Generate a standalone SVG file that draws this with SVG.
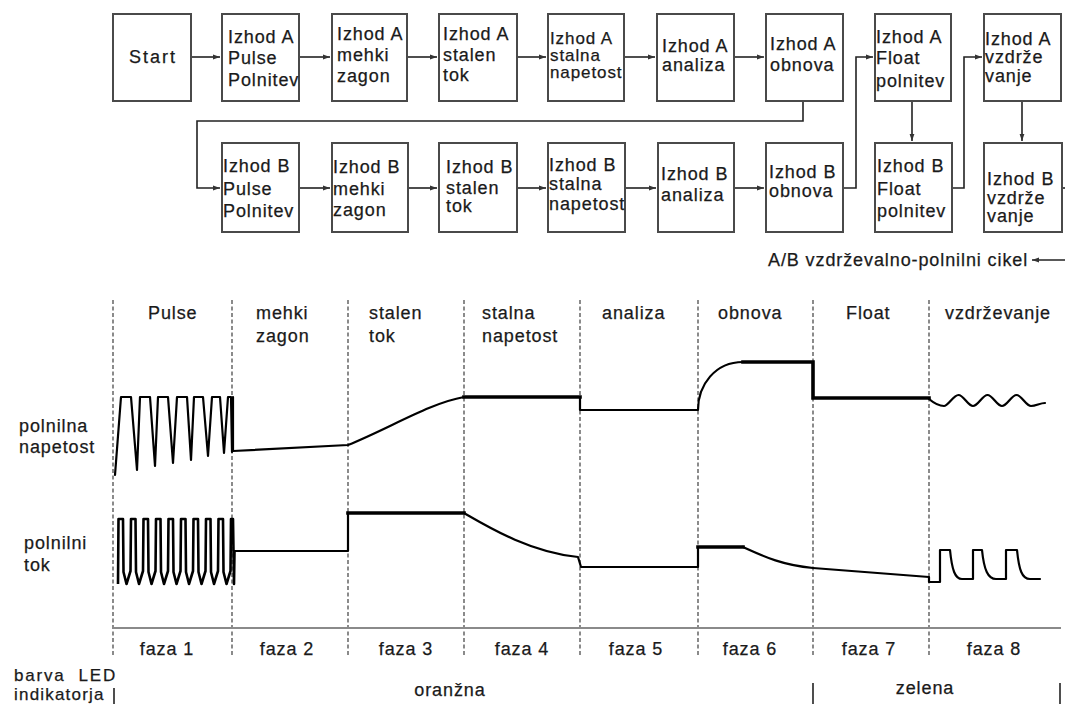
<svg xmlns="http://www.w3.org/2000/svg" width="1065" height="704" viewBox="0 0 1065 704">
<style>
.box{fill:#fff;stroke:#4a4a4a;stroke-width:2}
.t{font-family:"Liberation Sans",Arial,sans-serif;font-size:18px;letter-spacing:0.9px;fill:#1a1a1a;stroke:#1a1a1a;stroke-width:0.25px}
.conn{fill:none;stroke:#222;stroke-width:1.6}
.grid{fill:none;stroke:#6e6e6e;stroke-width:1.6;stroke-dasharray:4 2.5}
.wave{fill:none;stroke:#000;stroke-width:2.2;stroke-linejoin:round;stroke-linecap:round}
.dense{fill:none;stroke:#000;stroke-width:2.6;stroke-linejoin:round}
.thick{fill:none;stroke:#000;stroke-width:3.6;stroke-linecap:square}
.bar{stroke:#222;stroke-width:1.6}
</style>
<defs>
<marker id="ah" markerWidth="8" markerHeight="6" refX="7" refY="3" orient="auto" markerUnits="userSpaceOnUse">
<path d="M0,0.6 L7,3 L0,5.4 z" fill="#333"/>
</marker>
</defs>
<rect width="1065" height="704" fill="#fff"/>

<!-- connectors -->
<g id="connectors">
<path class="conn" d="M191,57 H220" marker-end="url(#ah)"/>
<path class="conn" d="M299,57 H330" marker-end="url(#ah)"/>
<path class="conn" d="M407,57 H437" marker-end="url(#ah)"/>
<path class="conn" d="M517,57 H546" marker-end="url(#ah)"/>
<path class="conn" d="M624,57 H655" marker-end="url(#ah)"/>
<path class="conn" d="M734,57 H764" marker-end="url(#ah)"/>
<path class="conn" d="M803,101 V121 H197 V188 H220" marker-end="url(#ah)"/>
<path class="conn" d="M299,188 H330" marker-end="url(#ah)"/>
<path class="conn" d="M408,188 H437" marker-end="url(#ah)"/>
<path class="conn" d="M517,188 H546" marker-end="url(#ah)"/>
<path class="conn" d="M625,188 H656" marker-end="url(#ah)"/>
<path class="conn" d="M734,188 H764" marker-end="url(#ah)"/>
<path class="conn" d="M843,188 H856 V57 H873" marker-end="url(#ah)"/>
<path class="conn" d="M912,101 V141" marker-end="url(#ah)"/>
<path class="conn" d="M952,188 H964 V57 H982" marker-end="url(#ah)"/>
<path class="conn" d="M1022,101 V141" marker-end="url(#ah)"/>
<path class="conn" d="M1062,188 H1066"/>
<path class="conn" d="M1066,260 H1032" marker-end="url(#ah)"/>
</g>

<g id="start">
<rect class="box" x="113" y="14" width="78" height="87"/>
<text class="t" x="153" y="63" text-anchor="middle" style="letter-spacing:2px">Start</text>
</g>
<g id="a-pulse">
<rect class="box" x="222" y="14" width="77" height="87"/>
<text class="t"><tspan x="228" y="43">Izhod A</tspan><tspan x="228" y="64">Pulse</tspan><tspan x="228" y="86">Polnitev</tspan></text>
</g>
<g id="a-mehki">
<rect class="box" x="332" y="14" width="75" height="87"/>
<text class="t"><tspan x="337" y="40">Izhod A</tspan><tspan x="337" y="61">mehki</tspan><tspan x="337" y="82">zagon</tspan></text>
</g>
<g id="a-stalen">
<rect class="box" x="439" y="14" width="78" height="87"/>
<text class="t"><tspan x="443" y="40">Izhod A</tspan><tspan x="443" y="61">stalen</tspan><tspan x="443" y="81">tok</tspan></text>
</g>
<g id="a-stalna">
<rect class="box" x="548" y="14" width="76" height="87"/>
<text class="t" style="font-size:17px"><tspan x="550" y="44">Izhod A</tspan><tspan x="550" y="61">stalna</tspan><tspan x="550" y="78">napetost</tspan></text>
</g>
<g id="a-analiza">
<rect class="box" x="657" y="14" width="77" height="87"/>
<text class="t"><tspan x="662" y="52">Izhod A</tspan><tspan x="662" y="71">analiza</tspan></text>
</g>
<g id="a-obnova">
<rect class="box" x="766" y="14" width="77" height="87"/>
<text class="t"><tspan x="770" y="50">Izhod A</tspan><tspan x="770" y="71">obnova</tspan></text>
</g>
<g id="a-float">
<rect class="box" x="875" y="14" width="76" height="87"/>
<text class="t"><tspan x="876" y="43">Izhod A</tspan><tspan x="876" y="64">Float</tspan><tspan x="876" y="87">polnitev</tspan></text>
</g>
<g id="a-vzdrze">
<rect class="box" x="984" y="14" width="77" height="87"/>
<text class="t"><tspan x="985" y="45">Izhod A</tspan><tspan x="985" y="63">vzdrže</tspan><tspan x="985" y="82">vanje</tspan></text>
</g>

<g id="b-pulse">
<rect class="box" x="222" y="143" width="77" height="89"/>
<text class="t"><tspan x="223" y="172">Izhod B</tspan><tspan x="223" y="195">Pulse</tspan><tspan x="223" y="217">Polnitev</tspan></text>
</g>
<g id="b-mehki">
<rect class="box" x="332" y="143" width="76" height="89"/>
<text class="t"><tspan x="333" y="173">Izhod B</tspan><tspan x="333" y="195">mehki</tspan><tspan x="333" y="216">zagon</tspan></text>
</g>
<g id="b-stalen">
<rect class="box" x="439" y="143" width="78" height="89"/>
<text class="t"><tspan x="446" y="173">Izhod B</tspan><tspan x="446" y="194">stalen</tspan><tspan x="446" y="212">tok</tspan></text>
</g>
<g id="b-stalna">
<rect class="box" x="548" y="143" width="77" height="89"/>
<text class="t"><tspan x="549" y="171">Izhod B</tspan><tspan x="549" y="190">stalna</tspan><tspan x="549" y="210">napetost</tspan></text>
</g>
<g id="b-analiza">
<rect class="box" x="658" y="143" width="76" height="89"/>
<text class="t"><tspan x="661" y="180">Izhod B</tspan><tspan x="661" y="201">analiza</tspan></text>
</g>
<g id="b-obnova">
<rect class="box" x="766" y="143" width="77" height="89"/>
<text class="t"><tspan x="769" y="178">Izhod B</tspan><tspan x="769" y="197">obnova</tspan></text>
</g>
<g id="b-float">
<rect class="box" x="875" y="143" width="77" height="89"/>
<text class="t"><tspan x="877" y="172">Izhod B</tspan><tspan x="877" y="195">Float</tspan><tspan x="877" y="217">polnitev</tspan></text>
</g>
<g id="b-vzdrze">
<rect class="box" x="984" y="143" width="78" height="89"/>
<text class="t"><tspan x="987" y="185">Izhod B</tspan><tspan x="987" y="204">vzdrže</tspan><tspan x="987" y="222">vanje</tspan></text>
</g>

<text class="t" x="768" y="266">A/B vzdrževalno-polnilni cikel</text>

<!-- timing chart -->
<g id="grid">
<line class="grid" x1="113" y1="300" x2="113" y2="656"/>
<line class="grid" x1="232" y1="300" x2="232" y2="656"/>
<line class="grid" x1="348" y1="300" x2="348" y2="656"/>
<line class="grid" x1="464" y1="300" x2="464" y2="656"/>
<line class="grid" x1="580" y1="300" x2="580" y2="656"/>
<line class="grid" x1="698" y1="300" x2="698" y2="656"/>
<line class="grid" x1="813" y1="300" x2="813" y2="656"/>
<line class="grid" x1="929" y1="300" x2="929" y2="656"/>
<line x1="113" y1="628" x2="1061" y2="628" stroke="#8a8a8a" stroke-width="2.2"/>
</g>

<g id="phase-labels">
<text class="t" x="148" y="319">Pulse</text>
<text class="t"><tspan x="256" y="319">mehki</tspan><tspan x="256" y="342">zagon</tspan></text>
<text class="t"><tspan x="369" y="319">stalen</tspan><tspan x="369" y="342">tok</tspan></text>
<text class="t"><tspan x="482" y="319">stalna</tspan><tspan x="482" y="342">napetost</tspan></text>
<text class="t" x="602" y="319">analiza</text>
<text class="t" x="718" y="319">obnova</text>
<text class="t" x="846" y="319">Float</text>
<text class="t" x="945" y="319">vzdrževanje</text>
</g>

<g id="row-labels">
<text class="t"><tspan x="19" y="432">polnilna</tspan><tspan x="19" y="453">napetost</tspan></text>
<text class="t"><tspan x="24" y="549">polnilni</tspan><tspan x="24" y="571">tok</tspan></text>
</g>

<g id="voltage">
<path class="wave" d="M115,475 L121,397 L131,397 L137,470 L140,397 L150,397 L155,466 L158,397 L168,397 L173,463 L177,397 L187,397 L191,460 L194,397 L203,397 L208,456 L212,397 L220,397 L224,453 L228,397 L231,397 L232,452 L233,397 L233,451 L348,445 C390,428 430,403 464,397"/>
<path class="thick" d="M464,397 H580"/>
<path class="wave" d="M580,397 V410 H698 C698,385 715,362 743,362"/>
<path class="thick" d="M743,362 H813 V398 H929"/>
<path class="wave" d="M929,399 C935,404 940,406 944,406 S953.5,395 958.5,395 S968,406 973,406 S982.5,395 987.5,395 S997,406 1002,406 S1011.5,395 1016.5,395 S1026,406 1031,406 S1040,403 1045,403"/>
</g>

<g id="current">
<path class="dense" d="M118,584 L118.5,519 L123,519 L123.5,572 L126.5,584 L130.5,571 L131,519 L135.5,519 L136,572 L139,584 L143,571 L143.5,519 L148,519 L148.5,572 L151.5,584 L155.5,571 L156,519 L160.5,519 L161,572 L164,584 L168,571 L168.5,519 L173,519 L173.5,572 L176.5,584 L180.5,571 L181,519 L185.5,519 L186,572 L189,584 L193,571 L193.5,519 L198,519 L198.5,572 L201.5,584 L205.5,571 L206,519 L210.5,519 L211,572 L214,584 L218,571 L218.5,519 L223,519 L223.5,572 L226.5,584 L230.5,571 L231,519 L233,519 L234,584 L234.5,551"/>
<path class="wave" d="M234.5,551 L348,551 L348,513"/>
<path class="thick" d="M348,513 H464"/>
<path class="wave" d="M464,513 C490,528 530,552 578,557 L581,567 H698 V547"/>
<path class="thick" d="M698,547 H743"/>
<path class="wave" d="M743,547 C765,557 782,565 813,568 L929,577 V582 H940 V550 H950 C952,570 955,579 962,579 H973 V550 H982 C984,570 988,579 996,579 H1006 V550 H1017 C1019,570 1022,579 1030,579 H1040"/>
</g>

<g id="bottom-labels">
<text class="t" x="167" y="655" text-anchor="middle">faza 1</text>
<text class="t" x="287" y="655" text-anchor="middle">faza 2</text>
<text class="t" x="406" y="655" text-anchor="middle">faza 3</text>
<text class="t" x="522" y="655" text-anchor="middle">faza 4</text>
<text class="t" x="636" y="655" text-anchor="middle">faza 5</text>
<text class="t" x="750" y="655" text-anchor="middle">faza 6</text>
<text class="t" x="869" y="655" text-anchor="middle">faza 7</text>
<text class="t" x="994" y="655" text-anchor="middle">faza 8</text>
<text class="t" x="14" y="681" xml:space="preserve" style="font-size:17px;letter-spacing:1.8px">barva  LED</text>
<text class="t" x="14" y="700" style="font-size:17px;letter-spacing:1.2px">indikatorja</text>
<line class="bar" x1="114" y1="688" x2="114" y2="704"/>
<text class="t" x="450" y="696" text-anchor="middle">oranžna</text>
<line class="bar" x1="813" y1="683" x2="813" y2="704"/>
<text class="t" x="925" y="694" text-anchor="middle">zelena</text>
<line class="bar" x1="1060" y1="683" x2="1060" y2="704"/>
</g>
</svg>
